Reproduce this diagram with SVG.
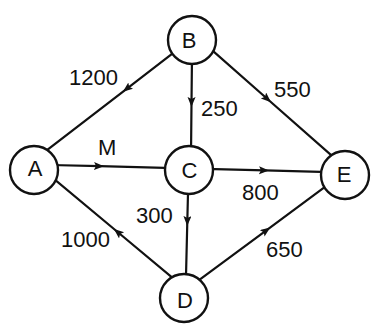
<svg xmlns="http://www.w3.org/2000/svg" width="374" height="327" viewBox="0 0 374 327">
<defs>
<marker id="arr" markerUnits="userSpaceOnUse" markerWidth="12" markerHeight="10" refX="6" refY="4" orient="auto">
<path d="M0,0 L10,4 L0,8 L2,4 Z" fill="#111"/>
</marker>
<style>
.edge{fill:none;stroke:#111;stroke-width:2.2;marker-mid:url(#arr)}
.node circle{fill:#fff;stroke:#111;stroke-width:2.4}
.node text{font-family:"Liberation Sans",Arial,sans-serif;font-size:22px;fill:#111;text-anchor:middle}
.lbl{font-family:"Liberation Sans",Arial,sans-serif;font-size:22px;fill:#111}
</style>
</defs>
<rect width="374" height="327" fill="#fff"/>
<g id="connectors">
<polyline class="edge" points="174.3,52.1 126,89.3 44.7,151.9"/>
<polyline class="edge" points="192,55 191.5,103 191,155"/>
<polyline class="edge" points="208,46.7 268,99.5 336,159.3"/>
<polyline class="edge" points="50,165 100,166.2 174,168.2"/>
<polyline class="edge" points="205,168.8 265,170.4 330,172.2"/>
<polyline class="edge" points="188.2,185 187.3,222 185.8,284"/>
<polyline class="edge" points="180.1,284.1 117,231.5 47.9,173.9"/>
<polyline class="edge" points="196.6,281.8 267,229.8 331.4,182.2"/>
<text class="lbl" x="69" y="85">1200</text>
<text class="lbl" x="201" y="116">250</text>
<text class="lbl" x="274" y="97">550</text>
<text class="lbl" x="98" y="155">M</text>
<text class="lbl" x="242" y="200">800</text>
<text class="lbl" x="136" y="223">300</text>
<text class="lbl" x="61" y="247">1000</text>
<text class="lbl" x="266" y="257">650</text>
</g>
<g id="node-A" class="node"><circle cx="34" cy="170" r="24"/><text x="35" y="176">A</text></g>
<g id="node-B" class="node"><circle cx="192" cy="40" r="24"/><text x="189" y="48">B</text></g>
<g id="node-C" class="node"><circle cx="189" cy="170" r="24"/><text x="189.5" y="178">C</text></g>
<g id="node-D" class="node"><circle cx="184" cy="298" r="24"/><text x="185" y="308">D</text></g>
<g id="node-E" class="node"><circle cx="345" cy="175" r="24"/><text x="344" y="182">E</text></g>
</svg>
